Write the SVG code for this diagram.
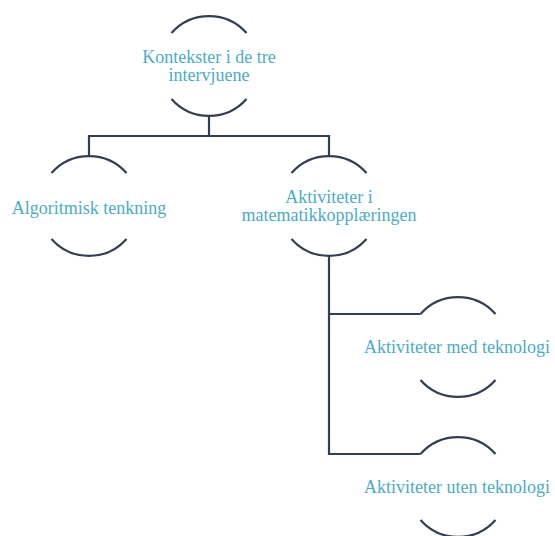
<svg xmlns="http://www.w3.org/2000/svg" width="555" height="536" viewBox="0 0 555 536">
<style>
.arc{fill:none;stroke:#333f50;stroke-width:2.2;stroke-linecap:butt}
.con{fill:none;stroke:#333f50;stroke-width:2.2}
.lbl{font-family:"Liberation Serif","Times New Roman",serif;font-size:18px;fill:#4bacc6;text-anchor:middle}
</style>
<rect width="555" height="536" fill="#ffffff"/>
<g id="connectors">
<path class="con" d="M209,116 V136 M89,156 V136 H329 V156"/>
<path class="con" d="M329,256 V454 H420.5 M329,314 H420.5"/>
</g>
<g id="node-kontekster">
<path class="arc" d="M171.5,33 A50,50 0 0 1 246.5,33"/>
<path class="arc" d="M171.5,99 A50,50 0 0 0 246.5,99"/>
<text class="lbl" x="209" y="63">Kontekster i de tre</text>
<text class="lbl" x="209" y="81">intervjuene</text>
</g>
<g id="node-algoritmisk">
<path class="arc" d="M51.5,173 A50,50 0 0 1 126.5,173"/>
<path class="arc" d="M51.5,239 A50,50 0 0 0 126.5,239"/>
<text class="lbl" x="89" y="214">Algoritmisk tenkning</text>
</g>
<g id="node-aktiviteter">
<path class="arc" d="M291.5,173 A50,50 0 0 1 366.5,173"/>
<path class="arc" d="M291.5,239 A50,50 0 0 0 366.5,239"/>
<text class="lbl" x="329" y="203">Aktiviteter i</text>
<text class="lbl" x="329" y="221">matematikkopplæringen</text>
</g>
<g id="node-med-teknologi">
<path class="arc" d="M420.5,314 A50,50 0 0 1 495.5,314"/>
<path class="arc" d="M420.5,380 A50,50 0 0 0 495.5,380"/>
<text class="lbl" x="457" y="353">Aktiviteter med teknologi</text>
</g>
<g id="node-uten-teknologi">
<path class="arc" d="M420.5,454 A50,50 0 0 1 495.5,454"/>
<path class="arc" d="M420.5,520 A50,50 0 0 0 495.5,520"/>
<text class="lbl" x="457" y="493">Aktiviteter uten teknologi</text>
</g>
</svg>
